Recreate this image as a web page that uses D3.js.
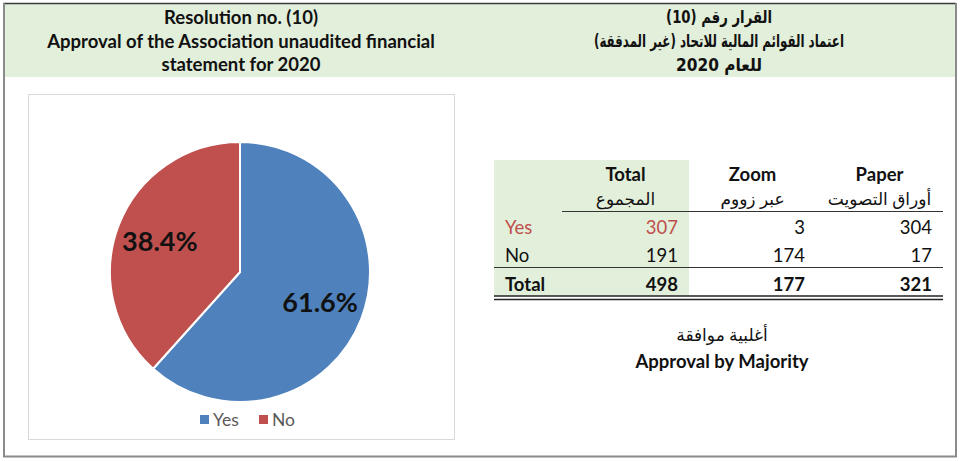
<!DOCTYPE html>
<html>
<head>
<meta charset="utf-8">
<script src="https://cdn.jsdelivr.net/npm/d3@7"></script>
<style>
  html, body { margin: 0; padding: 0; background: #fff; }
  svg { display: block; font-family: Lato, "DejaVu Sans", sans-serif; }
  .ttl { font-weight: bold; font-size: 18.5px; fill: #111; }
  .cell { font-size: 18.5px; fill: #111; }
  .cell.ar { font-size: 17px; }
  .ttl.ar { font-family: "DejaVu Sans Condensed", "DejaVu Sans", sans-serif; font-size: 17.5px; }
</style>
</head>
<body>
<svg id="chart" width="960" height="461"></svg>
<script>
// Titles
const titleEn = ['Resolution no. (10)', 'Approval of the Association unaudited financial', 'statement for 2020'];
const titleAr = ['القرار رقم (10)', 'اعتماد القوائم المالية للاتحاد (غير المدققة)', 'للعام 2020'];

// Pie
const categories = ['Yes', 'No'];
const pieValues = [307, 191];
const pieLabels = ['61.6%', '38.4%'];
const colors = ['#4f81bd', '#c0504d'];

// Table
const colHeadEn = ['Total', 'Zoom', 'Paper'];
const colHeadAr = ['المجموع', 'عبر زووم', 'أوراق التصويت'];
const rowLabels = ['Yes', 'No', 'Total'];
const totalCol = [307, 191, 498];
const zoomCol = [3, 174, 177];
const paperCol = [304, 17, 321];

const resultAr = 'أغلبية موافقة';
const resultEn = 'Approval by Majority';

const svg = d3.select('#chart');

// header band + frame
svg.append('rect').attr('x', 4).attr('y', 4).attr('width', 951).attr('height', 73).attr('fill', '#e2efda');
svg.append('line').attr('x1', 3).attr('x2', 956).attr('y1', 3.5).attr('y2', 3.5).attr('stroke', '#3a3a3a').attr('stroke-width', 1.5);
svg.append('path')
  .attr('d', 'M4,3 V456.5 H956 V3')
  .attr('fill', 'none').attr('stroke', '#8a8a8a').attr('stroke-width', 2);

svg.selectAll('text.en').data(titleEn).join('text')
  .attr('class', 'ttl en').attr('x', 241).attr('y', (d, i) => 24 + i * 23.5)
  .attr('text-anchor', 'middle').text(d => d);
// the installed arabic face runs wide, so narrow each line a little
const arWidth = [106, 250, 86];
svg.selectAll('text.ar-t').data(titleAr).join('text')
  .attr('class', 'ttl ar ar-t').attr('x', 0).attr('y', 0)
  .attr('text-anchor', 'middle').attr('direction', 'rtl')
  .text(d => d)
  .each(function (d, i) {
    const k = Math.min(1, arWidth[i] / this.getComputedTextLength());
    d3.select(this).attr('transform', `translate(719,${22.5 + i * 24}) scale(${k},1)`);
  });

// chart box
svg.append('rect').attr('x', 28.5).attr('y', 94.5).attr('width', 426).attr('height', 345)
  .attr('fill', '#fff').attr('stroke', '#d9d9d9');

const cx = 240, cy = 272, r = 130;
const pie = d3.pie().sort(null).value(d => d)(pieValues);
const arc = d3.arc().innerRadius(0).outerRadius(r);
const lblArc = d3.arc().innerRadius(r * 0.66).outerRadius(r * 0.66);
const gPie = svg.append('g').attr('transform', `translate(${cx},${cy})`);
gPie.selectAll('path').data(pie).join('path')
  .attr('d', arc).attr('fill', (d, i) => colors[i])
  .attr('stroke', '#fff').attr('stroke-width', 2);
gPie.selectAll('text').data(pie).join('text')
  .attr('transform', d => `translate(${lblArc.centroid(d)})`)
  .attr('text-anchor', 'middle').attr('dy', '0.36em')
  .style('font-size', '27px').style('font-weight', 'bold').style('fill', '#111')
  .text((d, i) => pieLabels[i]);

// legend
const legX = d3.scaleOrdinal().domain(categories).range([200, 259]);
const leg = svg.append('g').selectAll('g').data(categories).join('g')
  .attr('transform', d => `translate(${legX(d)},420)`);
leg.append('rect').attr('x', 0).attr('y', -5).attr('width', 9).attr('height', 9).attr('fill', (d, i) => colors[i]);
leg.append('text').attr('x', 13).attr('y', 0).attr('dy', '0.35em')
  .style('font-size', '17.5px').style('fill', '#595959').text(d => d);

// table
const colX = d3.scaleBand().domain(colHeadEn).range([562, 943]);
const rowY = d3.scalePoint().domain(rowLabels).range([227, 284]);
const cols = [totalCol, zoomCol, paperCol];

svg.append('rect').attr('x', 494).attr('y', 160).attr('width', 195).attr('height', 136).attr('fill', '#e2efda');

svg.selectAll('text.hen').data(colHeadEn).join('text')
  .attr('class', 'ttl hen').attr('x', d => colX(d) + colX.bandwidth() / 2).attr('y', 181)
  .attr('text-anchor', 'middle').text(d => d);
svg.selectAll('text.har').data(colHeadAr).join('text')
  .attr('class', 'cell ar har').attr('x', (d, i) => colX(colHeadEn[i]) + colX.bandwidth() / 2).attr('y', 205)
  .attr('text-anchor', 'middle').attr('direction', 'rtl').text(d => d);

svg.append('line').attr('x1', 562).attr('x2', 943).attr('y1', 211.5).attr('y2', 211.5).attr('stroke', '#333');
svg.append('line').attr('x1', 494).attr('x2', 943).attr('y1', 267.5).attr('y2', 267.5).attr('stroke', '#333');
svg.append('line').attr('x1', 494).attr('x2', 943).attr('y1', 296).attr('y2', 296).attr('stroke', '#222').attr('stroke-width', 1.5);
svg.append('line').attr('x1', 494).attr('x2', 943).attr('y1', 299.5).attr('y2', 299.5).attr('stroke', '#222').attr('stroke-width', 1.5);

rowLabels.forEach((lab, ri) => {
  const isTotal = lab === 'Total';
  const fill = lab === 'Yes' ? '#c0504d' : '#111';
  svg.append('text').attr('class', 'cell').attr('x', 505).attr('y', rowY(lab)).attr('dy', '0.36em')
    .style('font-weight', isTotal ? 'bold' : null).style('fill', fill).text(lab);
  cols.forEach((col, ci) => {
    svg.append('text').attr('class', 'cell')
      .attr('x', colX(colHeadEn[ci]) + colX.bandwidth() - 11).attr('y', rowY(lab)).attr('dy', '0.36em')
      .attr('text-anchor', 'end')
      .style('font-weight', isTotal ? 'bold' : null)
      .style('fill', ci === 0 ? fill : '#111')
      .text(col[ri]);
  });
});

svg.append('text').attr('class', 'cell ar').attr('x', 722).attr('y', 335).attr('dy', '0.35em')
  .attr('text-anchor', 'middle').attr('direction', 'rtl').text(resultAr);
svg.append('text').attr('class', 'ttl').attr('x', 722).attr('y', 362).attr('dy', '0.35em')
  .attr('text-anchor', 'middle').text(resultEn);
</script>
</body>
</html>
